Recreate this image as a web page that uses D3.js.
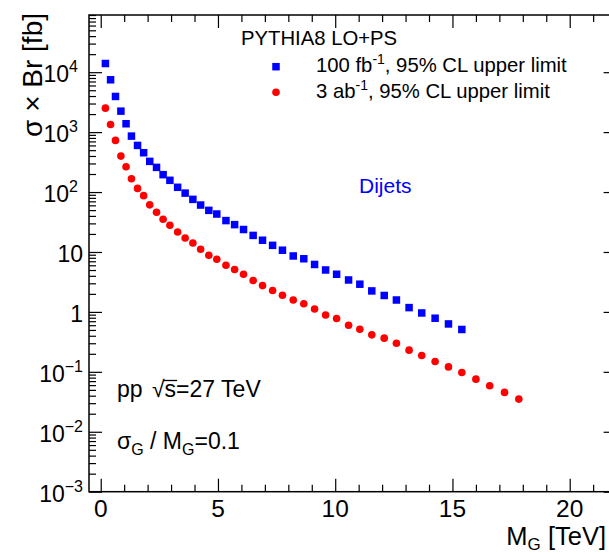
<!DOCTYPE html>
<html>
<head>
<meta charset="utf-8">
<script src="https://cdn.jsdelivr.net/npm/d3@7"></script>
<style>
  html, body { margin: 0; padding: 0; background: #fff; }
  svg { display: block; }
  text { font-family: "Liberation Sans", Arial, Helvetica, sans-serif; fill: #000; }
</style>
</head>
<body>
<svg id="chart" width="609" height="554"></svg>
<script>
// Graviton mass points [TeV]
const massTeV = [0.2, 0.42, 0.63, 0.86, 1.08, 1.31, 1.57, 1.83, 2.09, 2.38,
  2.66, 2.95, 3.28, 3.6, 3.93, 4.26, 4.61, 4.95, 5.34, 5.71,
  6.09, 6.5, 6.9, 7.33, 7.75, 8.21, 8.66, 9.12, 9.59, 10.06,
  10.57, 11.05, 11.56, 12.09, 12.61, 13.15, 13.69, 14.26, 14.83, 15.4,
  16.0, 16.59, 17.22, 17.83];

// 95% CL upper limits on sigma x Br [fb], 100 fb^-1
const limit100fb = [13960, 7470, 3936, 2239, 1380, 858, 600, 453, 325, 258,
  195, 157, 120, 96, 75.5, 60.7, 49.5, 43, 33.4, 28.6,
  23.7, 18.9, 15.7, 12.9, 10.7, 8.58, 7.71, 6.19, 5.01, 4.25,
  3.41, 2.9, 2.24, 1.88, 1.58, 1.18, 0.96, 0.785, 0.63, 0.509];

// 95% CL upper limits on sigma x Br [fb], 3 ab^-1
const limit3ab = [2512, 1343, 728, 398, 265, 167, 115, 87, 61.2, 45.9,
  35.1, 27.9, 21.5, 17.1, 14.1, 11.1, 8.81, 7.55, 6.0, 5.09,
  4.25, 3.34, 2.75, 2.27, 1.9, 1.58, 1.37, 1.12, 0.89, 0.776,
  0.6, 0.515, 0.414, 0.365, 0.30, 0.23, 0.187, 0.149, 0.121, 0.0977,
  0.0755, 0.0585, 0.0454, 0.0351];

// Axis ticks and labels
const xMajorTicks = [0, 5, 10, 15, 20];
const xMinorTicks = d3.range(0, 23, 1);
const yMajorTicks = [1e-3, 1e-2, 1e-1, 1, 10, 1e2, 1e3, 1e4];
const yTickBase = ["10", "10", "10", "1", "10", "10", "10", "10"];
const yTickExp  = ["\u22123", "\u22122", "\u22121", "", "", "2", "3", "4"];

const seriesNames = ["100 fb", "3 ab"];
const seriesColors = ["#0000ff", "#ff0000"];

const svg = d3.select("#chart");
const frameL = 89, frameR = 616.6, frameT = 15, frameB = 491.7;

const x = d3.scaleLinear().domain([-0.5, 22]).range([frameL, frameR]);
const y = d3.scaleLog().domain([1e-3, 9e4]).range([frameB, frameT]);

const yMinorTicks = [];
for (let k = -3; k <= 4; k++) {
  for (let m = 2; m <= 9; m++) {
    const v = m * Math.pow(10, k);
    if (v <= 9e4) yMinorTicks.push(v);
  }
}

const MAJ = 13, MIN = 7;

function tickAxis(gen, transform) {
  const g = svg.append("g").attr("transform", transform).call(gen);
  g.select(".domain").remove();
  g.selectAll(".tick line").attr("stroke", "#000").attr("stroke-width", 1.2);
  g.selectAll(".tick text").remove();
  return g;
}

const xMinorOnly = xMinorTicks.filter(v => v % 5 !== 0);

// x ticks (bottom and top, pointing inward)
tickAxis(d3.axisBottom(x).tickValues(xMajorTicks).tickSizeInner(-MAJ).tickSizeOuter(0), `translate(0,${frameB})`);
tickAxis(d3.axisBottom(x).tickValues(xMinorOnly).tickSizeInner(-MIN).tickSizeOuter(0), `translate(0,${frameB})`);
tickAxis(d3.axisTop(x).tickValues(xMajorTicks).tickSizeInner(-MAJ).tickSizeOuter(0), `translate(0,${frameT})`);
tickAxis(d3.axisTop(x).tickValues(xMinorOnly).tickSizeInner(-MIN).tickSizeOuter(0), `translate(0,${frameT})`);

// y ticks (left and right, pointing inward)
tickAxis(d3.axisLeft(y).tickValues(yMajorTicks).tickSizeInner(-MAJ).tickSizeOuter(0), `translate(${frameL},0)`);
tickAxis(d3.axisLeft(y).tickValues(yMinorTicks).tickSizeInner(-MIN).tickSizeOuter(0), `translate(${frameL},0)`);
tickAxis(d3.axisRight(y).tickValues(yMajorTicks).tickSizeInner(-MAJ).tickSizeOuter(0), `translate(${frameR},0)`);
tickAxis(d3.axisRight(y).tickValues(yMinorTicks).tickSizeInner(-MIN).tickSizeOuter(0), `translate(${frameR},0)`);

// frame
svg.append("rect")
  .attr("x", frameL).attr("y", frameT)
  .attr("width", frameR - frameL).attr("height", frameB - frameT)
  .attr("fill", "none").attr("stroke", "#000").attr("stroke-width", 1.5);

// x tick labels
svg.append("g").selectAll("text").data(xMajorTicks).join("text")
  .attr("x", d => x(d)).attr("y", frameB + 24.8)
  .attr("text-anchor", "middle")
  .attr("font-size", 24.5)
  .text(d => d);

// y tick labels with exponents
const yl = svg.append("g").selectAll("text").data(yMajorTicks).join("text")
  .attr("x", (d, i) => (yTickExp[i] && d > 1) ? 78 : 83)
  .attr("y", d => y(d) + 10)
  .attr("text-anchor", "end")
  .attr("font-size", 23);
yl.append("tspan").text((d, i) => yTickBase[i]);
yl.append("tspan")
  .attr("dy", -10).attr("font-size", 16)
  .text((d, i) => yTickExp[i]);

// axis titles
svg.append("text")
  .attr("transform", `translate(42,13) rotate(-90)`)
  .attr("text-anchor", "end")
  .attr("font-size", 28)
  .text("\u03c3 \u00d7 Br [fb]");

const xt = svg.append("text")
  .attr("x", 606).attr("y", 545)
  .attr("text-anchor", "end")
  .attr("font-size", 25.5);
xt.append("tspan").text("M");
xt.append("tspan").attr("dy", 4.5).attr("font-size", 17).text("G");
xt.append("tspan").attr("dy", -4.5).text(" [TeV]");

// data markers
const plot = svg.append("g");
const sqSize = 7.5;
plot.selectAll("rect.lim100").data(limit100fb).join("rect")
  .attr("class", "lim100")
  .attr("x", (d, i) => x(massTeV[i]) - sqSize / 2)
  .attr("y", d => y(d) - sqSize / 2)
  .attr("width", sqSize).attr("height", sqSize)
  .attr("fill", seriesColors[0]);

plot.selectAll("circle.lim3").data(limit3ab).join("circle")
  .attr("class", "lim3")
  .attr("cx", (d, i) => x(massTeV[i]))
  .attr("cy", d => y(d))
  .attr("r", 3.8)
  .attr("fill", seriesColors[1]);

// legend
svg.append("text").attr("x", 241).attr("y", 45).attr("font-size", 20.3).text("PYTHIA8 LO+PS");
svg.append("rect").attr("x", 276 - sqSize / 2).attr("y", 66.7 - sqSize / 2)
  .attr("width", sqSize).attr("height", sqSize).attr("fill", seriesColors[0]);
svg.append("circle").attr("cx", 276).attr("cy", 92.3).attr("r", 3.8).attr("fill", seriesColors[1]);

[[seriesNames[0], 72.3], [seriesNames[1], 97.7]].forEach(([nm, by]) => {
  const t = svg.append("text").attr("x", 316).attr("y", by).attr("font-size", 20.3);
  t.append("tspan").text(nm);
  t.append("tspan").attr("dy", -8).attr("font-size", 14).text("-1");
  t.append("tspan").attr("dy", 8).text(", 95% CL upper limit");
});

// channel label
svg.append("text").attr("x", 359).attr("y", 193).attr("font-size", 21)
  .style("fill", "#0000ff").text("Dijets");

// collision energy, with an overbar on the square root
const ppY = 397;
const pp = svg.append("text").attr("x", 117).attr("y", ppY).attr("font-size", 23);
pp.append("tspan").text("pp ");
pp.append("tspan").attr("dx", 3).text("\u221as=27 TeV");
{
  const node = pp.node();
  const rootPos = node.getEndPositionOfChar(3);
  const sEnd = node.getEndPositionOfChar(4);
  svg.append("line")
    .attr("x1", rootPos.x - 1).attr("x2", sEnd.x + 1)
    .attr("y1", ppY - 16.5).attr("y2", ppY - 16.5)
    .attr("stroke", "#000").attr("stroke-width", 1.3);
}

// resonance width
const wd = svg.append("text").attr("x", 117).attr("y", 449).attr("font-size", 23);
wd.append("tspan").text("\u03c3");
wd.append("tspan").attr("dy", 6).attr("font-size", 16).text("G");
wd.append("tspan").attr("dy", -6).text(" / M");
wd.append("tspan").attr("dy", 6).attr("font-size", 16).text("G");
wd.append("tspan").attr("dy", -6).text("=0.1");
</script>
</body>
</html>
